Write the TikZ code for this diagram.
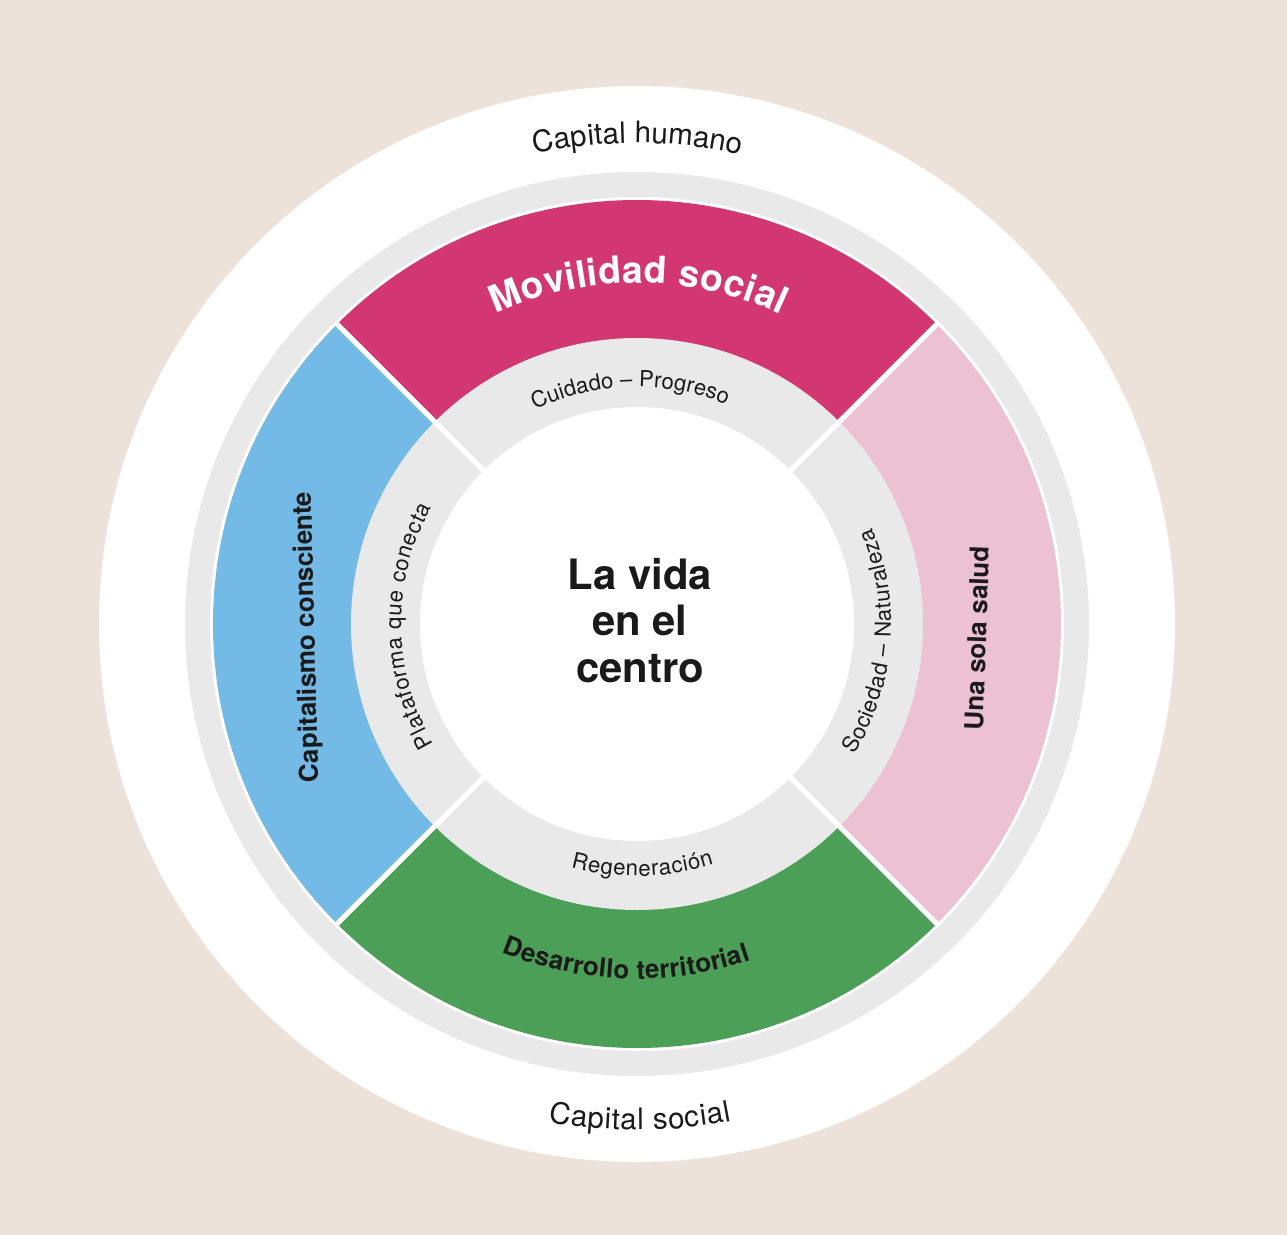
\documentclass[tikz,border=0pt]{standalone}
\usepackage{fontspec}
\setmainfont{TeX Gyre Heros}
\usetikzlibrary{decorations.text}
\definecolor{sand}{HTML}{EDE2D9}
\definecolor{ringgray}{HTML}{E9E9E9}
\definecolor{movil}{HTML}{D33771}
\definecolor{capblue}{HTML}{74BAE6}
\definecolor{saludpink}{HTML}{ECC1D2}
\definecolor{terrgreen}{HTML}{4C9F56}
\definecolor{ink}{HTML}{1A1A1A}
\newcommand{\capfont}{\fontsize{16.8}{20}\selectfont}
\newcommand{\movfont}{\bfseries\fontsize{21.3}{24}\selectfont}
\newcommand{\segfont}{\bfseries\fontsize{14.8}{17}\selectfont}
\newcommand{\linkfont}{\fontsize{12.6}{15}\selectfont}

\begin{document}
\begin{tikzpicture}[x=0.2mm,y=0.2mm,
  arctext/.style={decorate,decoration={text along path,text align={fit to path},text color=ink}}]

\useasboundingbox (-637,-611) rectangle (650,624);
\fill[sand] (-637,-611) rectangle (650,624);

% rings
\fill[white] (0,0) circle[radius=538];
\fill[ringgray] (0,0) circle[radius=452];
\fill[white] (0,0) circle[radius=427];

% sectors
\fill[movil] (0,0) -- (45:424) arc[start angle=45,end angle=135,radius=424] -- cycle;
\fill[capblue] (0,0) -- (135:424) arc[start angle=135,end angle=225,radius=424] -- cycle;
\fill[terrgreen] (0,0) -- (225:424) arc[start angle=225,end angle=315,radius=424] -- cycle;
\fill[saludpink] (0,0) -- (-45:424) arc[start angle=-45,end angle=45,radius=424] -- cycle;

\fill[ringgray] (0,0) circle[radius=286];
\fill[white] (0,0) circle[radius=217];
\foreach \a in {45,135,225,315} \draw[white,line width=1mm] (\a:210) -- (\a:426);

% outer ring
\path[arctext,decoration={text={|\capfont|Capital humano}}] (102.3:481) arc[start angle=102.3,end angle=77.5,radius=481];
\path[arctext,decoration={text={|\capfont|Capital social}}] (259.9:506) arc[start angle=259.9,end angle=280.8,radius=506];

% segments
\path[arctext,decoration={text={|\movfont|Movilidad social},text color=white}] (114.5:341) arc[start angle=114.5,end angle=65,radius=341];
\path[arctext,decoration={text={|\segfont|Desarrollo territorial}}] (247.6:355) arc[start angle=247.6,end angle=288.7,radius=355];
\node[font=\segfont,text=ink,rotate=91.5] (capcon) at (-329,-13) {Capitalismo consciente};
\node[font=\segfont,text=ink,rotate=88] (salud) at (340,-14) {Una sola salud};

% inner ring
\path[arctext,decoration={text={|\linkfont|Cuidado – Progreso}}] (115.5:237) arc[start angle=115.5,end angle=67.8,radius=237];
\path[arctext,decoration={text={|\linkfont|Plataforma que conecta}}] (210.7:236) arc[start angle=210.7,end angle=150.4,radius=236];
\path[arctext,decoration={text={|\linkfont|Sociedad – Naturaleza}}] (-31:254) arc[start angle=-31,end angle=22.2,radius=254];
\path[arctext,decoration={text={|\linkfont|Regeneración}}] (254.8:252) arc[start angle=254.8,end angle=287.8,radius=252];

\node[font=\bfseries\fontsize{23.8}{26.4}\selectfont,align=center,anchor=north,inner sep=0pt,text=ink] (core) at (3,66) {La vida\\en el\\centro};

\end{tikzpicture}
\end{document}
